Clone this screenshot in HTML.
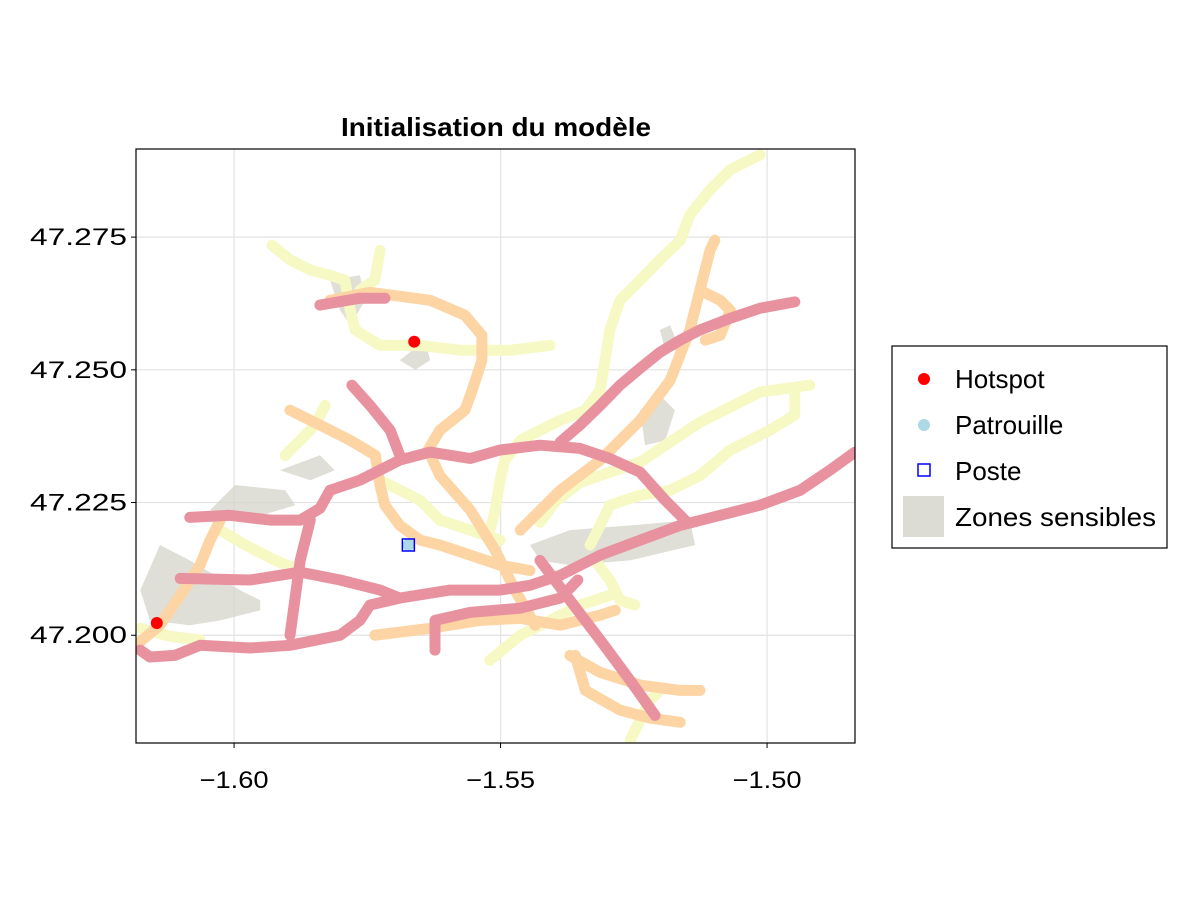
<!DOCTYPE html>
<html><head><meta charset="utf-8"><style>
body{margin:0;background:#fff}
svg text{font-family:"Liberation Sans",sans-serif}
</style></head><body>
<svg id="c" width="1200" height="900" xmlns="http://www.w3.org/2000/svg">
<defs><clipPath id="clip"><rect x="136" y="149" width="719" height="594"/></clipPath></defs>
<rect width="1200" height="900" fill="#fff"/>
<g id="grid"></g>
<g id="plot" clip-path="url(#clip)"></g>
<rect x="136" y="149" width="719" height="594" fill="none" stroke="#000" stroke-width="1.2"/>
<g id="ticks"></g>
<text x="496" y="136" text-anchor="middle" font-size="26" font-weight="bold" textLength="310" lengthAdjust="spacingAndGlyphs">Initialisation du modèle</text>
<g>
<rect x="892" y="346" width="275" height="202" fill="#fff" stroke="#000" stroke-width="1.2"/>
<circle cx="924" cy="379" r="6" fill="#ff0000"/>
<text x="955" y="388" font-size="26">Hotspot</text>
<circle cx="924" cy="425" r="6" fill="#add8e6"/>
<text x="955" y="434" font-size="26">Patrouille</text>
<rect x="918" y="464" width="12" height="12" fill="none" stroke="#0000ff" stroke-width="1.5"/>
<text x="955" y="480" font-size="26">Poste</text>
<rect x="903" y="496" width="41" height="41" fill="#dcdcd4"/>
<text x="955" y="526" font-size="26" textLength="201" lengthAdjust="spacingAndGlyphs">Zones sensibles</text>
</g>
</svg>
<script>
const xTicks=[-1.60,-1.55,-1.50];
const yTicks=[47.200,47.225,47.250,47.275];
const xTickLabels=["−1.60","−1.55","−1.50"];
const yTickLabels=["47.200","47.225","47.250","47.275"];
const hotspots=[[-1.5662,47.2553],[-1.6145,47.2023]];
const patrouilles=[[-1.5673,47.2170]];
const postes=[[-1.5673,47.2170]];
const pinkRoads=[
[[-1.6176,47.1972],[-1.6158,47.1959],[-1.6111,47.1962],[-1.6064,47.1981],[-1.5970,47.1976],[-1.5895,47.1981],[-1.5801,47.2000],[-1.5764,47.2028],[-1.5745,47.2057],[-1.5689,47.2070],[-1.5595,47.2085],[-1.5501,47.2085],[-1.5445,47.2094],[-1.5388,47.2113],[-1.5313,47.2151],[-1.5238,47.2179],[-1.5163,47.2207],[-1.5088,47.2226],[-1.5013,47.2245],[-1.4938,47.2273],[-1.4882,47.2311],[-1.4835,47.2345]],
[[-1.5388,47.2364],[-1.5351,47.2396],[-1.5313,47.2433],[-1.5276,47.2471],[-1.5238,47.2503],[-1.5201,47.2533],[-1.5163,47.2556],[-1.5126,47.2575],[-1.5069,47.2597],[-1.5013,47.2616],[-1.4948,47.2628]],
[[-1.5820,47.2273],[-1.5764,47.2292],[-1.5689,47.2330],[-1.5632,47.2345],[-1.5557,47.2333],[-1.5501,47.2349],[-1.5426,47.2358],[-1.5351,47.2352],[-1.5295,47.2333],[-1.5238,47.2307],[-1.5191,47.2254],[-1.5154,47.2217]],
[[-1.5779,47.2471],[-1.5745,47.2433],[-1.5707,47.2386],[-1.5689,47.2339]],
[[-1.6083,47.2222],[-1.6008,47.2226],[-1.5932,47.2217],[-1.5876,47.2217],[-1.5839,47.2239],[-1.5820,47.2273]],
[[-1.6101,47.2107],[-1.5970,47.2104],[-1.5876,47.2119],[-1.5801,47.2104],[-1.5726,47.2085],[-1.5689,47.2070]],
[[-1.5895,47.2000],[-1.5886,47.2066],[-1.5876,47.2141],[-1.5857,47.2217]],
[[-1.5623,47.1972],[-1.5623,47.2028],[-1.5557,47.2043],[-1.5463,47.2051],[-1.5388,47.2070],[-1.5355,47.2104]],
[[-1.5426,47.2141],[-1.5370,47.2066],[-1.5313,47.1991],[-1.5257,47.1915],[-1.5210,47.1849]],
[[-1.5839,47.2622],[-1.5764,47.2635],[-1.5717,47.2635]]
];
const orangeRoads=[
[[-1.5820,47.2631],[-1.5745,47.2646],[-1.5632,47.2631],[-1.5567,47.2603],[-1.5535,47.2565],[-1.5535,47.2518],[-1.5553,47.2462],[-1.5567,47.2424],[-1.5614,47.2386],[-1.5636,47.2349],[-1.5614,47.2301],[-1.5557,47.2236],[-1.5510,47.2160],[-1.5473,47.2085],[-1.5435,47.2019]],
[[-1.5463,47.2198],[-1.5388,47.2273],[-1.5313,47.2330],[-1.5238,47.2405],[-1.5182,47.2480],[-1.5145,47.2575],[-1.5126,47.2650],[-1.5107,47.2725],[-1.5098,47.2744]],
[[-1.5895,47.2424],[-1.5839,47.2396],[-1.5782,47.2367],[-1.5735,47.2339],[-1.5726,47.2282],[-1.5717,47.2245],[-1.5689,47.2207],[-1.5651,47.2179],[-1.5614,47.2170],[-1.5557,47.2151],[-1.5501,47.2132],[-1.5445,47.2122]],
[[-1.5736,47.2000],[-1.5632,47.2013],[-1.5539,47.2028],[-1.5463,47.2032],[-1.5388,47.2019],[-1.5313,47.2038],[-1.5285,47.2047]],
[[-1.5370,47.1962],[-1.5313,47.1930],[-1.5238,47.1906],[-1.5163,47.1896],[-1.5126,47.1896]],
[[-1.5360,47.1962],[-1.5341,47.1896],[-1.5276,47.1859],[-1.5220,47.1844],[-1.5163,47.1836]],
[[-1.6195,47.1972],[-1.6139,47.2019],[-1.6101,47.2075],[-1.6064,47.2132],[-1.6045,47.2179],[-1.6026,47.2217]],
[[-1.5126,47.2650],[-1.5088,47.2631],[-1.5069,47.2612],[-1.5088,47.2565],[-1.5116,47.2556]]
];
const yellowRoads=[
[[-1.5013,47.2905],[-1.5069,47.2877],[-1.5107,47.2839],[-1.5145,47.2792],[-1.5163,47.2744],[-1.5201,47.2707],[-1.5238,47.2669],[-1.5276,47.2631],[-1.5295,47.2575],[-1.5304,47.2518],[-1.5313,47.2462],[-1.5341,47.2424],[-1.5388,47.2405],[-1.5426,47.2386],[-1.5463,47.2367],[-1.5492,47.2330],[-1.5501,47.2292],[-1.5510,47.2236],[-1.5520,47.2198]],
[[-1.5929,47.2735],[-1.5895,47.2707],[-1.5857,47.2688],[-1.5820,47.2678],[-1.5792,47.2669],[-1.5782,47.2612],[-1.5773,47.2575],[-1.5726,47.2546],[-1.5651,47.2546],[-1.5576,47.2537],[-1.5482,47.2537],[-1.5407,47.2546]],
[[-1.5726,47.2725],[-1.5736,47.2669],[-1.5764,47.2650]],
[[-1.4920,47.2471],[-1.4957,47.2466],[-1.5013,47.2458],[-1.5051,47.2439],[-1.5126,47.2401],[-1.5182,47.2364],[-1.5238,47.2326],[-1.5295,47.2307],[-1.5351,47.2288],[-1.5398,47.2251],[-1.5426,47.2213]],
[[-1.4948,47.2462],[-1.4948,47.2415],[-1.4995,47.2386],[-1.5069,47.2349],[-1.5126,47.2301],[-1.5182,47.2273],[-1.5238,47.2264],[-1.5295,47.2245],[-1.5313,47.2207],[-1.5332,47.2170]],
[[-1.5323,47.2141],[-1.5295,47.2104],[-1.5276,47.2066],[-1.5248,47.2057]],
[[-1.5257,47.1802],[-1.5220,47.1877],[-1.5201,47.1896]],
[[-1.6176,47.2013],[-1.6120,47.1998],[-1.6064,47.1991]],
[[-1.6026,47.2198],[-1.5979,47.2170],[-1.5923,47.2141],[-1.5876,47.2122]],
[[-1.5829,47.2433],[-1.5848,47.2396],[-1.5876,47.2367],[-1.5904,47.2339]],
[[-1.5726,47.2292],[-1.5651,47.2254],[-1.5614,47.2217],[-1.5557,47.2198],[-1.5501,47.2179]],
[[-1.5520,47.1953],[-1.5463,47.2000],[-1.5407,47.2028],[-1.5351,47.2057],[-1.5295,47.2075]]
];
const zones=[
[[-1.6176,47.2085],[-1.6139,47.2170],[-1.6083,47.2141],[-1.5989,47.2085],[-1.5951,47.2066],[-1.5951,47.2047],[-1.6026,47.2028],[-1.6083,47.2019],[-1.6158,47.2028]],
[[-1.6045,47.2236],[-1.5998,47.2283],[-1.5904,47.2273],[-1.5885,47.2245],[-1.5979,47.2217]],
[[-1.5445,47.2170],[-1.5370,47.2198],[-1.5257,47.2207],[-1.5145,47.2217],[-1.5135,47.2170],[-1.5257,47.2141],[-1.5370,47.2132],[-1.5426,47.2141]],
[[-1.5820,47.2669],[-1.5764,47.2678],[-1.5754,47.2631],[-1.5782,47.2584],[-1.5801,47.2612]],
[[-1.5238,47.2424],[-1.5201,47.2452],[-1.5173,47.2424],[-1.5191,47.2367],[-1.5229,47.2358]],
[[-1.5201,47.2575],[-1.5182,47.2584],[-1.5163,47.2537],[-1.5191,47.2537]],
[[-1.5914,47.2311],[-1.5839,47.2339],[-1.5811,47.2311],[-1.5857,47.2292]],
[[-1.5689,47.2518],[-1.5642,47.2556],[-1.5632,47.2518],[-1.5660,47.2500]]
];
const svg=document.getElementById('c');
const NS='http://www.w3.org/2000/svg';
const X0=-1.6184,X1=-1.4835,Y0=47.1797,Y1=47.2916;
function sx(v){return 136+(v-X0)/(X1-X0)*719;}
function sy(v){return 743-(v-Y0)/(Y1-Y0)*594;}
function mk(tag,attrs,parent){const e=document.createElementNS(NS,tag);for(const k in attrs)e.setAttribute(k,attrs[k]);parent.appendChild(e);return e;}
const grid=document.getElementById('grid'),ticks=document.getElementById('ticks'),plot=document.getElementById('plot');
xTicks.forEach((t,i)=>{
 const gl=mk('line',{x1:sx(t),x2:sx(t),y1:149,y2:743,stroke:'#e3e3e3','stroke-width':1.2},grid);
 
 
 const tl=mk('text',{x:sx(t),y:788,'text-anchor':'middle','font-size':24,textLength:69,lengthAdjust:'spacingAndGlyphs'},ticks);
 tl.textContent=xTickLabels[i];
 
 
 mk('line',{x1:sx(t),x2:sx(t),y1:743,y2:748,stroke:'#000'},ticks);
});
yTicks.forEach((t,i)=>{
 const gl=mk('line',{x1:136,x2:855,y1:sy(t),y2:sy(t),stroke:'#e3e3e3','stroke-width':1.2},grid);
 
 
 const tl=mk('text',{x:127,y:sy(t)+8,'text-anchor':'end','font-size':24,textLength:97,lengthAdjust:'spacingAndGlyphs'},ticks);
 tl.textContent=yTickLabels[i];
 
 
 mk('line',{x1:131,x2:136,y1:sy(t),y2:sy(t),stroke:'#000'},ticks);
});
function pts(a){return a.map(p=>sx(p[0]).toFixed(1)+','+sy(p[1]).toFixed(1)).join(' ');}
zones.forEach(z=>{
 const e=mk('polygon',{points:pts(z),fill:'#d4d4ca','fill-opacity':0.75},plot);
 
 
});
function road(list,color,name){list.forEach(r=>{
 const e=mk('polyline',{points:pts(r),fill:'none',stroke:color,'stroke-width':11,'stroke-linecap':'round','stroke-linejoin':'round'},plot);
 
 
});}
road(yellowRoads,'#f6f9c3','road-low');
road(orangeRoads,'#fdd4a3','road-medium');
road(pinkRoads,'#e8919f','road-high');
hotspots.forEach(h=>{
 const e=mk('circle',{cx:sx(h[0]),cy:sy(h[1]),r:6,fill:'#ff0000'},plot);
 
 
});
patrouilles.forEach(p=>{
 const e=mk('circle',{cx:sx(p[0]),cy:sy(p[1]),r:6,fill:'#add8e6'},plot);
 
 
});
postes.forEach(p=>{
 const e=mk('rect',{x:sx(p[0])-6,y:sy(p[1])-6,width:12,height:12,fill:'none',stroke:'#0000ff','stroke-width':1.5},plot);
 
 
});
</script>
</body></html>
